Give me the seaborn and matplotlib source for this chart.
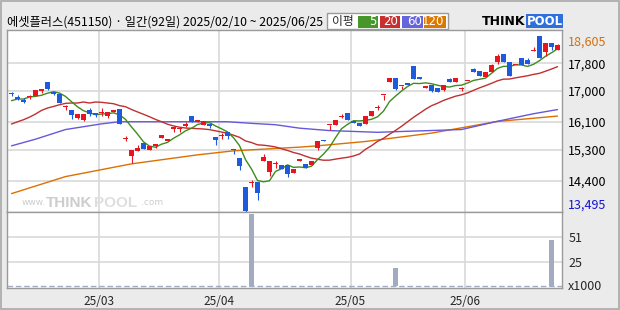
import numpy as np
import pandas as pd
import matplotlib
matplotlib.use("Agg")
import matplotlib.pyplot as plt
import matplotlib.transforms as mtransforms
from matplotlib.patches import Rectangle
import seaborn as sns

# ---------------- data ----------------
title = "에셋플러스(451150) · 일간(92일) 2025/02/10 ~ 2025/06/25"
month_labels = ["25/03", "25/04", "25/05", "25/06"]
month_first_idx = [15, 35, 57, 76]

opens = [16910, 16815, 16745, 16815, 16855, 17000, 17270, 16970, 16910, 16535,
         16445, 16215, 16165, 16435, 16360, 16370, 16260, 16390, 16480, 15615,
         15115, 15270, 15485, 15290, 15410, 15620, 15535, 15910, 15890, 15990,
         16280, 16085, 16020, 16050, 15670, 15690, 15815, 15290, 15065, 14215,
         14335, 14370, 14980, 14660, 14870, 14855, 14855, 14610, 14960, 14885,
         14865, 15340, 15590, 16010, 16020, 16255, 16360, 16135, 16065, 16030,
         16280, 16515, 16885, 17250, 17375, 17130, 17240, 17735, 17415, 17085,
         17175, 17085, 17040, 17340, 17260, 17055, 17280, 17650, 17580, 17405,
         17560, 17835, 18085, 17855, 17745, 17960, 17910, 18150, 18605, 18140,
         18390, 18175]
highs = [16960, 16890, 16785, 16880, 17040, 17060, 17270, 16990, 16920, 16600,
         16445, 16330, 16330, 16495, 16360, 16495, 16380, 16455, 16480, 15690,
         15290, 15430, 15485, 15410, 15465, 15730, 15610, 15990, 15960, 16105,
         16280, 16155, 16125, 16050, 15670, 15785, 15815, 15290, 15065, 14215,
         14415, 14370, 15175, 14980, 14970, 14855, 14855, 14730, 15030, 14885,
         14960, 15535, 15590, 16020, 16165, 16320, 16360, 16135, 16065, 16260,
         16405, 16600, 16892, 17375, 17375, 17135, 17240, 17735, 17415, 17155,
         17175, 17085, 17175, 17370, 17370, 17115, 17290, 17680, 17580, 17540,
         17785, 18065, 18085, 17855, 17750, 17960, 17960, 18280, 18605, 18400,
         18390, 18350]
lows = [16865, 16745, 16640, 16775, 16845, 16940, 17020, 16875, 16640, 16455,
        16200, 16185, 16135, 16260, 16240, 16260, 16210, 16390, 16035, 15550,
        14900, 15270, 15320, 15290, 15330, 15620, 15535, 15815, 15795, 15940,
        16105, 16085, 16020, 15920, 15445, 15610, 15610, 15165, 14710, 13495,
        14225, 13835, 14980, 14535, 14775, 14735, 14515, 14610, 14960, 14775,
        14865, 15290, 15535, 15855, 16020, 16205, 16165, 16065, 15990, 16030,
        16280, 16435, 16745, 17250, 17020, 17055, 17180, 17360, 17340, 17085,
        16970, 16970, 17010, 17260, 17260, 17010, 17280, 17550, 17425, 17405,
        17560, 17795, 17845, 17425, 17745, 17755, 17785, 18150, 17960, 18010,
        18200, 18175]
closes = [16900, 16765, 16690, 16830, 17030, 17060, 17065, 16900, 16640, 16545,
          16290, 16330, 16330, 16320, 16290, 16380, 16380, 16455, 16035, 15625,
          15285, 15350, 15320, 15410, 15465, 15730, 15610, 15920, 15900, 16050,
          16105, 16155, 16125, 15970, 15565, 15700, 15700, 15280, 14825, 13525,
          14345, 14025, 15095, 14975, 14880, 14735, 14590, 14730, 15030, 14775,
          14960, 15535, 15535, 16020, 16165, 16265, 16165, 16065, 15990, 16260,
          16405, 16525, 16892, 17375, 17055, 17135, 17185, 17360, 17340, 17155,
          17010, 16970, 17175, 17260, 17370, 17060, 17290, 17550, 17425, 17540,
          17755, 18010, 17845, 17425, 17750, 17755, 17785, 18155, 17960, 18380,
          18270, 18345]
volume_k = [0] * 92
volume_k[40] = 74
volume_k[64] = 19
volume_k[90] = 48

# moving-average values before enough history exists in this window
ma5_head = [16718, 16766, 16766, 16825]
ma20_head = [16040, 16105, 16165, 16240, 16330, 16435, 16505, 16550, 16600, 16640,
             16650, 16650, 16680, 16650, 16680, 16670, 16650, 16630, 16575]
ma60_idx = [0, 4, 9, 15, 18, 36, 40, 44, 48, 53, 61, 65, 75, 81, 87, 91]
ma60_val = [15407, 15600, 15880, 16045, 16106, 16106, 16060, 16020, 15920, 15850,
            15800, 15824, 15880, 16120, 16339, 16460]
ma120_idx = [0, 9, 20, 31, 37, 42, 48, 51, 59, 70, 81, 91]
ma120_val = [14020, 14514, 14884, 15145, 15262, 15311, 15369, 15407, 15533, 15776,
             16115, 16271]

price_ticks = [17800, 17000, 16100, 15300, 14400]
max_label, min_label = 18605, 13495
vol_ticks = [51, 25]

# ---------------- styling ----------------
RED = "#e8141e"
BLUE = "#1e5adc"
C5, C20, C60, C120 = "#3d8c1e", "#c03030", "#6658dc", "#dc7000"
GRID = "#d9d9d9"
FRAME = "#9a9a9a"

sns.set_theme(style="white")
plt.rcParams["font.family"] = ["Noto Sans CJK KR", "DejaVu Sans"]

W, H = 620, 310
fig = plt.figure(figsize=(W / 100, H / 100), dpi=100)
fig.patch.set_facecolor("#ebebeb")


def fx(px):
    return px / W


def fy(py):
    return 1 - py / H


# outer frame
fig.patches.append(Rectangle((fx(0.5), fy(308.5)), fx(618), 308 / H, transform=fig.transFigure,
                             fill=False, edgecolor="#a8a8a8", lw=1.2))

ax = fig.add_axes([fx(7), fy(212), fx(555), 182 / H])
axv = fig.add_axes([fx(7), fy(288), fx(555), 76 / H], sharex=ax)

x = np.arange(len(closes))
o = np.array(opens, float)
c = np.array(closes, float)
hi = np.array(highs, float)
lo = np.array(lows, float)
up = c >= o
cols = np.where(up, RED, BLUE)

df = pd.DataFrame({"day": x, "close": c})
ma5 = df["close"].rolling(5).mean().to_numpy()
ma5[:4] = ma5_head
ma20 = df["close"].rolling(20).mean().to_numpy()
ma20[:19] = ma20_head

for a in (ax, axv):
    a.set_facecolor("white")
    for s in a.spines.values():
        s.set_color(FRAME)
        s.set_linewidth(1)
    for gi in month_first_idx:
        a.axvline(gi - 0.5, color=GRID, lw=1.2, zorder=0)

for t in price_ticks:
    ax.axhline(t, color=GRID, lw=1.2, zorder=0)


def ax_px(px):
    return (px - 7) / 555


# watermark
wm_color = "#cdcdcd"
ax.text(ax_px(22), 0.025, "www.", transform=ax.transAxes, fontsize=6.5,
        color=wm_color, family="DejaVu Sans", va="bottom", ha="left", zorder=0.5)
ax.text(ax_px(46), 0.01, "THINK", transform=ax.transAxes, fontsize=11,
        color=wm_color, family="Liberation Sans", fontweight="bold", va="bottom", ha="left", zorder=0.5)
ax.text(ax_px(94), 0.01, "POOL", transform=ax.transAxes, fontsize=11,
        color="#dedede", family="Liberation Sans", fontweight="bold", va="bottom", ha="left", zorder=0.5)
ax.text(ax_px(141), 0.025, ".com", transform=ax.transAxes, fontsize=6.5,
        color=wm_color, family="DejaVu Sans", va="bottom", ha="left", zorder=0.5)

# moving averages
sns.lineplot(x=ma120_idx, y=ma120_val, ax=ax, color=C120, lw=1, zorder=2)
sns.lineplot(x=ma60_idx, y=ma60_val, ax=ax, color=C60, lw=1, zorder=2)
sns.lineplot(x=x, y=ma20, ax=ax, color=C20, lw=1, zorder=2)
sns.lineplot(x=x, y=ma5, ax=ax, color=C5, lw=1, zorder=2)

# candles
ax.vlines(x, lo, hi, colors=cols, lw=0.8, zorder=3)
body = np.maximum(np.abs(c - o), 30)
ax.bar(x, body, bottom=np.minimum(o, c), width=0.8, color=cols, linewidth=0, zorder=4)

ax.set_xlim(-0.75, 91.75)
ax.set_ylim(13486, 18770)
ax.yaxis.tick_right()
ax.set_yticks(price_ticks)
ax.set_yticklabels([f"{t:,}" for t in price_ticks])
ax.tick_params(axis="y", length=0, pad=4.5, labelsize=9, colors="black")
ax.tick_params(axis="x", length=0, labelbottom=False)
ax.set_xlabel("")
ax.set_ylabel("")
tr = mtransforms.blended_transform_factory(ax.transAxes, ax.transData)
ax.text(1.0108, max_label, f"{max_label:,}", transform=tr, color="#d07010", fontsize=9,
        va="top", ha="left", clip_on=False)
ax.text(1.0108, min_label, f"{min_label:,}", transform=tr, color="#1414d2", fontsize=9,
        va="bottom", ha="left", clip_on=False)

# volume
axv.bar(x, volume_k, width=0.75, color="#a3abc3", linewidth=0, zorder=3)
for t in vol_ticks:
    axv.axhline(t, color=GRID, lw=1.2, zorder=0)
axv.axhline(0, color="#a3abc3", lw=1, ls=(0, (4, 2)), zorder=2)
axv.set_ylim(-1.75, 76.4)
axv.yaxis.tick_right()
axv.set_yticks(vol_ticks)
axv.set_yticklabels([str(t) for t in vol_ticks])
axv.tick_params(axis="y", length=0, pad=4.5, labelsize=9)
trv = mtransforms.blended_transform_factory(axv.transAxes, axv.transData)
axv.text(1.0108, 0, "x1000", transform=trv, fontsize=9, va="center", ha="left", clip_on=False)
axv.set_xticks([gi - 0.5 for gi in month_first_idx])
axv.set_xticklabels(month_labels)
axv.tick_params(axis="x", length=0, pad=5, labelsize=8.5)
axv.set_xlabel("")
axv.set_ylabel("")

# title
fig.text(fx(7), fy(22), title, fontsize=8.8, va="center", ha="left", color="black")

# legend box
fig.patches.append(Rectangle((fx(327), fy(29)), fx(121), 16 / H, transform=fig.transFigure,
                             facecolor="white", edgecolor="#9a9a9a", lw=1))
fig.text(fx(332), fy(21.5), "이평", fontsize=8.5, va="center", ha="left")
for (l, r, colr, lab) in [(358, 378, "#46962a", "5"), (380, 400, "#c83030", "20"),
                          (402, 423, "#6464dc", "60"), (424, 446, "#dc7800", "120")]:
    fig.patches.append(Rectangle((fx(l), fy(27.5)), fx(r - l), 12 / H, transform=fig.transFigure,
                                 facecolor=colr, edgecolor="none"))
    fig.text(fx(r - 1.5), fy(21.5), lab, fontsize=8.5, color="white", va="center", ha="right",
             family="DejaVu Sans")

# THINKPOOL logo
fig.text(fx(482), fy(21.5), "THINK", fontsize=9, fontweight="bold", family="DejaVu Sans",
         va="center", ha="left", color="black")
fig.patches.append(Rectangle((fx(526), fy(28)), fx(37), 14 / H, transform=fig.transFigure,
                             facecolor="#2f6fdc", edgecolor="none"))
fig.text(fx(544.5), fy(21.5), "POOL", fontsize=8.5, fontweight="bold", family="DejaVu Sans",
         va="center", ha="center", color="white")

fig.savefig("out.png", dpi=100, facecolor=fig.get_facecolor())
